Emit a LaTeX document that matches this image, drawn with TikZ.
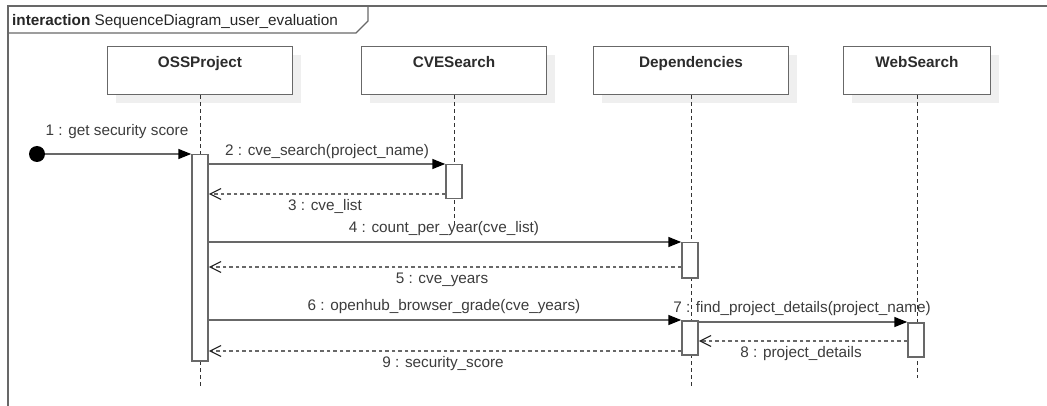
\documentclass[tikz,border=0pt]{standalone}
\usepackage{fontspec}
\setmainfont{Liberation Sans}
\usetikzlibrary{arrows.meta,shadows}
\definecolor{linec}{HTML}{686868}
\definecolor{textc}{HTML}{3C3C3C}
\definecolor{headc}{HTML}{2C2C2C}
\definecolor{shadowc}{HTML}{EFEFEF}
\tikzset{
  x=1pt, y=-1pt,
  every node/.style={font=\fontsize{15.3}{18}\selectfont, text=textc},
  head/.style={draw=linec, line width=1.3pt, fill=white, anchor=north,
    minimum height=48pt, inner ysep=0pt, text height=21pt, text depth=27pt,
    font=\fontsize{15.3}{18}\selectfont\bfseries, text=headc,
    general shadow={fill=shadowc, shadow xshift=8pt, shadow yshift=-8pt}},
  lifeline/.style={draw=black!80, line width=1pt, dash pattern=on 4pt off 3pt},
  act/.style={draw=linec, line width=1.5pt, fill=white, anchor=north,
    minimum width=16pt, inner sep=0pt},
  call/.style={draw=linec, line width=1.5pt, -{Triangle[length=13pt,width=10pt,color=black]}},
  reply/.style={draw=linec, line width=1.5pt, dash pattern=on 3.5pt off 3pt,
    -{Straight Barb[length=11pt,width=11pt,line width=1.2pt,color=black!85]}},
  lbl/.style={inner sep=0pt}
}
\begin{document}
\begin{tikzpicture}
\useasboundingbox (0,0) rectangle (1047,406);
% frame
\draw[linec, line width=1.3pt] (8,410) -- (8,6) -- (1050,6);
\draw[linec, line width=1.3pt] (8,33) -- (356,33) -- (368,21) -- (368,6);
\node[lbl, anchor=base west, text=black!85] (title) at (12,26)
  {\textbf{interaction} SequenceDiagram\_user\_evaluation};

% lifeline heads
\node[head, minimum width=185pt] (oss) at (200,46) {OSSProject};
\node[head, minimum width=185pt] (cve) at (454,46) {CVESearch};
\node[head, minimum width=195pt] (dep) at (691,46) {Dependencies};
\node[head, minimum width=147pt] (web) at (917,46) {WebSearch};

% lifelines
\coordinate (ossend) at (200,387);
\coordinate (cveend) at (454,226);
\coordinate (depend) at (691,387);
\coordinate (webend) at (917,378);
\draw[lifeline] (oss.south) -- (ossend);
\draw[lifeline] (cve.south) -- (cveend);
\draw[lifeline] (dep.south) -- (depend);
\draw[lifeline] (web.south) -- (webend);

% activations
\node[act, minimum height=206pt] (aO) at (200,154) {};
\node[act, minimum height=34pt] (aC) at (454,164) {};
\node[act, minimum height=35pt] (aD1) at (690,242) {};
\node[act, minimum height=34pt] (aD2) at (690,320) {};
\node[act, minimum height=34pt] (aW) at (916,322) {};

% start
\node[circle, fill=black, inner sep=0pt, minimum size=16pt] (start) at (37,154) {};

% messages
\draw[call] (start) -- (aO.north west);
\node[lbl] (l1) at (117,132) {1 : get security score};

\draw[call] (aO.east |- aC.north) -- (aC.north west);
\node[lbl] (l2) at (327,152) {2 : cve\_search(project\_name)};

\coordinate (r3) at (454,194);
\draw[reply] (aC.west |- r3) -- (aO.east |- r3);
\node[lbl] (l3) at (325,206) {3 : cve\_list};

\draw[call] (aO.east |- aD1.north) -- (aD1.north west);
\node[lbl] (l4) at (444,229) {4 : count\_per\_year(cve\_list)};

\coordinate (r5) at (690,267);
\draw[reply] (aD1.west |- r5) -- (aO.east |- r5);
\node[lbl] (l5) at (442,280) {5 : cve\_years};

\draw[call] (aO.east |- aD2.north) -- (aD2.north west);
\node[lbl] (l6) at (444,307) {6 : openhub\_browser\_grade(cve\_years)};

\draw[call] (aD2.east |- aW.north) -- (aW.north west);
\node[lbl] (l7) at (802,309) {7 : find\_project\_details(project\_name)};

\coordinate (r8) at (916,341);
\draw[reply] (aW.west |- r8) -- (aD2.east |- r8);
\node[lbl] (l8) at (801,354) {8 : project\_details};

\coordinate (r9) at (690,351);
\draw[reply] (aD2.west |- r9) -- (aO.east |- r9);
\node[lbl] (l9) at (443,364) {9 : security\_score};
\end{tikzpicture}
\end{document}
